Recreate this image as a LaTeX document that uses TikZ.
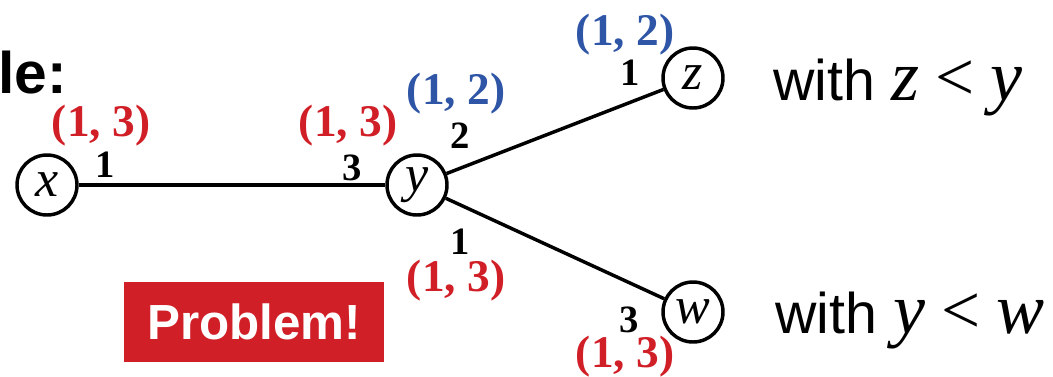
\documentclass[tikz,border=0pt]{standalone}
\usepackage{fontspec}
\setmainfont{Liberation Sans}
\newfontfamily\tms{Liberation Serif}
\definecolor{myred}{HTML}{D11F27}
\definecolor{myblue}{HTML}{2E55A6}
\begin{document}
\begin{tikzpicture}[x=0.75pt,y=-0.75pt,
  vert/.style={circle,draw,line width=2.6pt,minimum size=45pt,inner sep=0pt,font=\tms\itshape\fontsize{39}{39}\selectfont},
  edge/.style={line width=2.6pt},
  wt/.style={font=\tms\bfseries\fontsize{29}{29}\selectfont,inner sep=0pt},
  redlab/.style={font=\tms\bfseries\fontsize{34}{34}\selectfont,text=myred,inner sep=0pt},
  bluelab/.style={font=\tms\bfseries\fontsize{34}{34}\selectfont,text=myblue,inner sep=0pt},
  side/.style={font=\fontsize{43}{43}\selectfont,inner sep=0pt,anchor=base west}]
\useasboundingbox (0,0) rectangle (1053,376);
\node[font=\bfseries\fontsize{44}{44}\selectfont,inner sep=0pt,anchor=base west] (title) at (-2,93) {le:};
\node[vert] (x) at (47,185) {x};
\node[vert] (y) at (417,185) {y};
\node[vert] (z) at (693,78) {z};
\node[vert] (w) at (693,312) {w};
\draw[edge] (x) -- (y);
\draw[edge] (y) -- (z);
\draw[edge] (y) -- (w);
\node[redlab] (lx) at (101,126) {(1, 3)};
\node[wt] (wx) at (105,165) {1};
\node[redlab] (ly1) at (348,126) {(1, 3)};
\node[wt] (wy1) at (352,168) {3};
\node[bluelab] (ly2) at (456,94) {(1, 2)};
\node[wt] (wy2) at (460,136) {2};
\node[wt] (wy3) at (460,242) {1};
\node[redlab] (ly3) at (456,281) {(1, 3)};
\node[bluelab] (lz) at (625,35) {(1, 2)};
\node[wt] (wz) at (630,73) {1};
\node[wt] (ww) at (629,320) {3};
\node[redlab] (lw) at (625,357) {(1, 3)};
\node[side] (cz) at (773,100) {with {\tms\itshape\fontsize{54}{54}\selectfont z} {\tms\fontsize{52}{52}\selectfont <} {\tms\itshape\fontsize{54}{54}\selectfont y}};
\node[side] (cw) at (775,333) {with {\tms\itshape\fontsize{54}{54}\selectfont y} {\tms\fontsize{52}{52}\selectfont <} {\tms\itshape\fontsize{54}{54}\selectfont w}};
\node[fill=myred,minimum width=195pt,minimum height=60pt,inner sep=0pt,text=white,font=\bfseries\fontsize{37}{37}\selectfont] (prob) at (254,322) {Problem!};
\end{tikzpicture}
\end{document}
